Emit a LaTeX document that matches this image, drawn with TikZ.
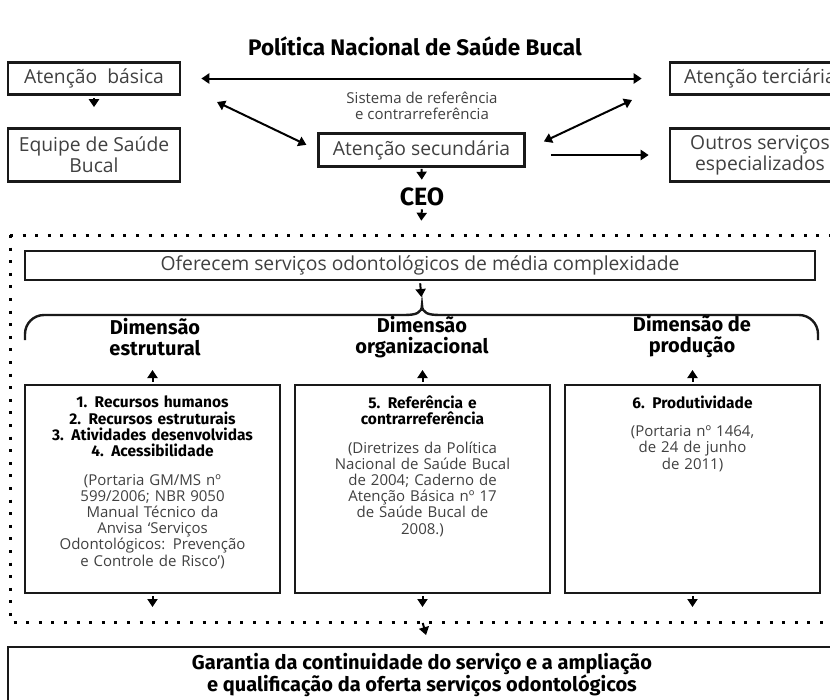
\documentclass[tikz,border=0pt]{standalone}
\usepackage{fontspec}
\setmainfont{Open Sans}
\newfontfamily\headfont{Fira Sans}
\usetikzlibrary{arrows.meta, positioning}

\begin{document}
\begin{tikzpicture}[x=1pt, y=-1pt,
box/.style = {draw=black!90, line width=2.6pt, inner sep=0pt,
              align=center, text=black!75,
              font=\fontsize{19.3}{21}\selectfont},
bold/.style = {inner sep=0pt, align=center,
               font=\headfont\bfseries\fontsize{20}{21}\selectfont},
boxtext/.style = {inner sep=0pt, text width=250pt, align=center,
                  text=black!75, font=\fontsize{15}{16.2}\selectfont},
arr/.style = {line width=2pt, -{Triangle[width=10pt,length=8pt]}},
dblarr/.style = {line width=2pt,
                 {Triangle[width=10pt,length=8pt]}-{Triangle[width=10pt,length=8pt]}},
dots/.style = {line width=3pt, dash pattern=on 3pt off 9.6pt},
                    ]
\useasboundingbox (0,0) rectangle (830,699);
\clip (0,0) rectangle (830,699);

%--- upper part
\node (titulo) [bold, font=\headfont\bfseries\fontsize{22.5}{22}\selectfont] at (415,46) {Política Nacional de Saúde Bucal};

\node (basica) [box, minimum width=172, minimum height=32] at (94,78.5) {Atenção\ \ básica};
\node (equipe) [box, minimum width=172, minimum height=53] at (94,155) {Equipe de Saúde\\Bucal};
\node (terciaria) [box, minimum width=180, minimum height=32] at (760,78.5) {Atenção terciária};
\node (outros) [box, minimum width=180, minimum height=53] at (760,155) {Outros serviços\\especializados};
\node (secundaria) [box, minimum width=206, minimum height=33] at (421.5,150) {Atenção secundária};
\node (sistema) [inner sep=0pt, align=center, text=black!75,
                 font=\fontsize{15}{15.5}\selectfont] at (422,106) {Sistema de referência\\e contrarreferência};
\node (ceo) [bold, font=\headfont\bfseries\fontsize{25}{25}\selectfont] at (422,197) {CEO};

\coordinate (ref_l) at (217,102);
\coordinate (ref_r) at (632,100);

\draw[arr, shorten <=2pt, shorten >=20pt] (basica) -- (equipe);
\draw[dblarr, shorten <=20pt, shorten >=27pt] (basica.east) -- (terciaria.west);
\draw[dblarr, shorten >=12pt] (ref_l) -- (secundaria.west);
\draw[dblarr, shorten <=20pt] (secundaria.east) -- (ref_r);
\draw[arr, shorten <=25pt, shorten >=20pt] (secundaria.east |- outros.west) -- (outros.west);
\draw[arr, shorten <=1pt, shorten >=8pt] (secundaria.south) -- (ceo.north);

%--- CEO frame
\draw[dots] (10,235) -- (840,235);
\draw[dots] (10,235) -- (10,622) -- (840,622);

\node (oferecem) [box, minimum width=790, minimum height=29] at (420,265.5) {Oferecem serviços odontológicos de média complexidade};
\draw[arr, shorten <=3pt, shorten >=29pt] (ceo.south) -- (oferecem.north);

\coordinate (chave) at (422,305);
\draw[line width=2.4pt, black!90] (25,340) -- (25,334) arc[start angle=180, end angle=270, radius=19]
      -- (404,315) .. controls (416,315) and (422,313) .. (chave)
      .. controls (422,313) and (428,315) .. (440,315)
      -- (799,315) arc[start angle=270, end angle=360, radius=19] -- (818,340);
\draw[arr, shorten <=2pt, shorten >=8pt] (oferecem.south) -- (chave);

\node (dim_est) [bold] at (155,337) {Dimensão\\estrutural};
\node (dim_org) [bold] at (422,337) {Dimensão\\organizacional};
\node (dim_prod) [bold] at (692,337) {Dimensão de\\produção};

\node (box_est) [box, minimum width=255, minimum height=208] at (152.5,489) {};
\node (box_org) [box, minimum width=255, minimum height=208] at (422.5,489) {};
\node (box_prod) [box, minimum width=255, minimum height=208] at (692.5,489) {};

\node (txt_est) [boxtext, below=12pt of box_est.north] {%
{\headfont\bfseries\fontsize{15.5}{16.5}\selectfont\color{black}1. Recursos humanos\\2. Recursos estruturais\\3. Atividades desenvolvidas\\4. Acessibilidade}\\[12pt]
(Portaria GM/MS nº\\599/2006; NBR 9050\\Manual Técnico da\\Anvisa ‘Serviços\\Odontológicos: Prevenção\\e Controle de Risco’)};
\node (txt_org) [boxtext, below=12pt of box_org.north] {%
{\headfont\bfseries\fontsize{15.5}{16.5}\selectfont\color{black}5. Referência e\\contrarreferência}\\[12pt]
(Diretrizes da Política\\Nacional de Saúde Bucal\\de 2004; Caderno de\\Atenção Básica nº 17\\de Saúde Bucal de\\2008.)};
\node (txt_prod) [boxtext, below=12pt of box_prod.north] {%
{\headfont\bfseries\fontsize{15.5}{16.5}\selectfont\color{black}6. Produtividade}\\[12pt]
(Portaria nº 1464,\\de 24 de junho\\de 2011)};

\draw[arr, shorten <=2pt, shorten >=33pt] (box_est.north) -- (box_est.north |- dim_est);
\draw[arr, shorten <=2pt, shorten >=33pt] (box_org.north) -- (box_org.north |- dim_org);
\draw[arr, shorten <=2pt, shorten >=33pt] (box_prod.north) -- (box_prod.north |- dim_prod);

%--- bottom
\coordinate (ponto_est) at (152.5,622);
\coordinate (ponto_org) at (422.5,622);
\coordinate (ponto_prod) at (692.5,622);
\draw[arr, shorten <=2pt, shorten >=15pt] (box_est.south) -- (ponto_est);
\draw[arr, shorten <=2pt, shorten >=15pt] (box_org.south) -- (ponto_org);
\draw[arr, shorten <=2pt, shorten >=15pt] (box_prod.south) -- (ponto_prod);

\node (garantia) [box, minimum width=842, minimum height=76] at (429,685) {};
\node (garantia_txt) [bold] at (422,675) {Garantia da continuidade do serviço e a ampliação\\e qualificação da oferta serviços odontológicos};
\draw[arr, shorten <=1pt, shorten >=11pt] (ponto_org) -- (garantia.north);

\end{tikzpicture}
\end{document}
